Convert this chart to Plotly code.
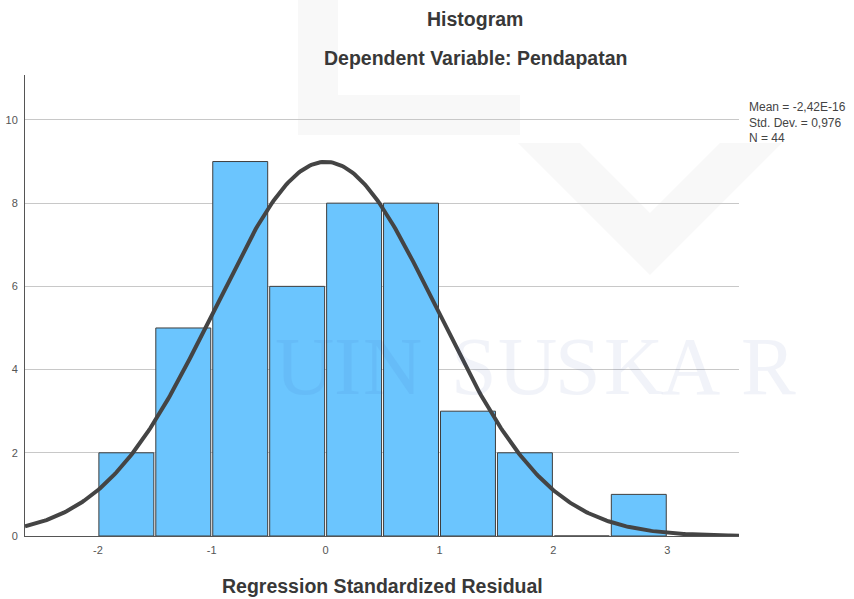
import numpy as np
import plotly.graph_objects as go

bin_centers = [-1.75, -1.25, -0.75, -0.25, 0.25, 0.75, 1.25, 1.75, 2.25, 2.75]
counts = [2, 5, 9, 6, 8, 8, 3, 2, 0, 1]
bin_width = 0.5
mean_val = -2.42e-16
sd_val = 0.976
n_val = 44
x_ticks = [-2, -1, 0, 1, 2, 3]
y_ticks = [0, 2, 4, 6, 8, 10]
stats_lines = ["Mean = -2,42E-16", "Std. Dev. = 0,976", "N = 44"]

xr = [-2.64, 3.63]
yr = [0, 11.08]

xs = np.linspace(xr[0], xr[1], 400)
ys = n_val * bin_width * np.exp(-0.5 * ((xs - mean_val) / sd_val) ** 2) / (sd_val * np.sqrt(2 * np.pi))

fig = go.Figure()
fig.add_trace(go.Bar(
    x=bin_centers, y=counts, width=[bin_width * 0.965] * len(counts),
    marker=dict(color="#6bc5fe", line=dict(color="#3e3e3e", width=1)),
    hoverinfo="skip",
))
fig.add_trace(go.Scatter(
    x=xs, y=ys, mode="lines", line=dict(color="#444444", width=4),
    hoverinfo="skip",
))

font_family = "Liberation Sans, Arial, sans-serif"
W, H = 854, 599
L, R, T, B = 25, 115, 75, 63
fig.update_layout(
    width=W, height=H,
    margin=dict(l=L, r=R, t=T, b=B, autoexpand=False),
    paper_bgcolor="white", plot_bgcolor="white",
    showlegend=False,
    font=dict(family=font_family, color="#555555", size=11),
)
fig.update_xaxes(
    range=xr, tickvals=x_ticks, ticktext=[str(v) for v in x_ticks],
    showgrid=False, zeroline=False, showline=True, linecolor="#555555", linewidth=1,
    ticks="", ticklabelstandoff=4, tickfont=dict(size=11, color="#555555"),
)
fig.update_yaxes(
    range=yr, tickvals=y_ticks, showgrid=True, gridcolor="#c8c8c8", gridwidth=1,
    zeroline=False, showline=True, linecolor="#555555", linewidth=1,
    ticks="", ticklabelstandoff=4, tickfont=dict(size=11, color="#555555"),
)

PW = W - L - R
PH = H - T - B

def px_x(p):
    return (p - L) / PW

def px_y(p):
    return (H - B - p) / PH

def text_at(text, x, y, size, color, xanchor="center", family=font_family, opacity=1.0):
    fig.add_annotation(text=text, xref="paper", yref="paper", x=px_x(x), y=px_y(y),
                       xanchor=xanchor, yanchor="middle", showarrow=False, opacity=opacity,
                       font=dict(size=size, color=color, family=family))

def poly(points, color="#f8f8f8"):
    path = "M " + " L ".join(f"{px_x(x):.5f},{px_y(y):.5f}" for x, y in points) + " Z"
    fig.add_shape(type="path", path=path, xref="paper", yref="paper",
                  fillcolor=color, line=dict(width=0), layer="below")

# faint logo watermark
poly([(298, 0), (338, 0), (338, 135), (298, 135)])
poly([(338, 95), (520, 95), (520, 135), (338, 135)])
poly([(518, 143), (580, 143), (650, 213), (720, 143), (782, 143), (650, 275)])

# faint text watermark
wm_font = "Liberation Serif, DejaVu Serif, serif"
wm_letters = ["U", "I", "N", "S", "U", "S", "K", "A", "R"]
wm_centers = [304, 347, 393, 474, 527, 578, 633, 690, 768]
for ch, cx in zip(wm_letters, wm_centers):
    text_at(ch, cx, 366, 82, "#2040a0", family=wm_font, opacity=0.06)

text_at("<b>Histogram</b>", 475, 19, 19.5, "#383838")
text_at("<b>Dependent Variable: Pendapatan</b>", 475, 58, 19.5, "#383838")
text_at("<b>Regression Standardized Residual</b>", 382, 586, 19.5, "#383838")

fig.add_annotation(
    text="<br>".join(stats_lines), xref="paper", yref="paper",
    x=px_x(747), y=px_y(98), xanchor="left", yanchor="top", align="left",
    showarrow=False, font=dict(size=12, color="#444444", family=font_family),
)

fig.write_html("out.html", post_script="document.body.style.margin='0';",
               config={"displayModeBar": False})
